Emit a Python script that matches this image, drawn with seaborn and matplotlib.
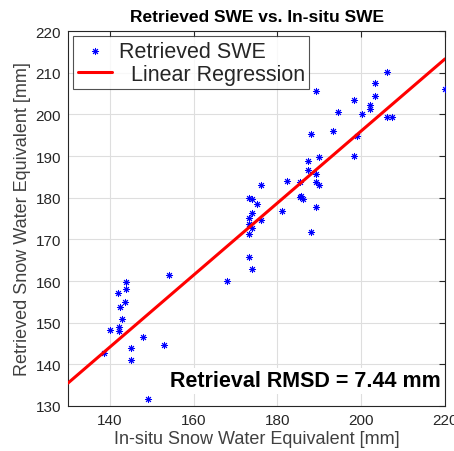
import numpy as np
import pandas as pd
import matplotlib
matplotlib.use("Agg")
import matplotlib.pyplot as plt
import seaborn as sns

# in-situ vs retrieved SWE [mm]
insitu = [138.6, 140.0, 143.9, 143.9, 142.0, 143.6, 142.4, 142.9, 142.2, 142.2,
          145.1, 145.1, 148.0, 153.0, 149.1, 154.0, 168.0, 173.1, 174.0, 173.1,
          174.0, 173.1, 176.1, 173.1, 174.0, 175.2, 174.0, 173.1, 176.1, 181.0,
          182.2, 185.3, 185.5, 186.2, 185.7, 187.2, 187.2, 187.9, 189.2, 189.2,
          190.0, 189.2, 190.0, 188.1, 189.2, 193.2, 194.4, 198.2, 199.1, 198.2,
          200.1, 202.0, 202.0, 203.2, 203.2, 206.1, 206.1, 207.3, 220.0]
retrieved = [142.7, 148.2, 159.7, 158.1, 157.1, 154.9, 153.7, 150.9, 148.9, 148.0,
             143.9, 141.0, 146.6, 144.6, 131.7, 161.4, 159.9, 165.8, 162.9, 171.4,
             172.8, 173.6, 174.7, 175.1, 176.3, 178.6, 179.8, 180.0, 183.0, 176.8,
             183.9, 183.7, 180.1, 179.6, 180.4, 186.6, 188.8, 171.7, 177.7, 183.7,
             183.0, 185.6, 189.7, 195.2, 205.5, 196.0, 200.5, 190.0, 194.7, 203.4,
             200.0, 202.2, 201.2, 204.3, 207.5, 210.1, 199.3, 199.3, 206.0]

# regression line end points
fit_x = [130, 220]
fit_y = [135.5, 213.3]

ticks_x = [140, 160, 180, 200, 220]
ticks_y = [130, 140, 150, 160, 170, 180, 190, 200, 210, 220]

df = pd.DataFrame({"insitu": insitu, "retrieved": retrieved})
fit = pd.DataFrame({"x": fit_x, "y": fit_y})

sns.set_style("whitegrid")
plt.rcParams["font.family"] = ["Liberation Sans", "DejaVu Sans"]

axc = "#262626"
fig = plt.figure(figsize=(4.54, 4.52), dpi=100)
ax = fig.add_axes([68/454, 1-407/452, 377/454, 375/452])

sns.scatterplot(data=df, x="insitu", y="retrieved", ax=ax, marker=(8, 2, 0),
                s=20, color="blue", edgecolor="blue", linewidth=0.7,
                label="Retrieved SWE", zorder=3)
sns.lineplot(data=fit, x="x", y="y", ax=ax, color="red", linewidth=2.2,
             label="  Linear Regression", zorder=4)

ax.set_xlim(130, 220)
ax.set_ylim(130, 220)
ax.set_xticks(ticks_x)
ax.set_yticks(ticks_y)
ax.grid(True, color="#dedede", linewidth=0.8)
for s in ax.spines.values():
    s.set_color(axc)
    s.set_linewidth(0.8)
ax.tick_params(direction="in", length=4, width=0.8, colors=axc, labelsize=11,
               top=True, right=True, labeltop=False, labelright=False, pad=5)

ax.set_xlabel("In-situ Snow Water Equivalent [mm]", fontsize=13, color="#404040", labelpad=2)
ax.set_ylabel("Retrieved Snow Water Equivalent [mm]", fontsize=13, color="#404040", labelpad=3)
ax.set_title("Retrieved SWE vs. In-situ SWE", fontsize=12.5, fontweight="bold", color="black", pad=7)

ax.text(0.99, 0.067, "Retrieval RMSD = 7.44 mm", transform=ax.transAxes,
        ha="right", va="center", fontsize=15.5, fontweight="bold", color="black",
        bbox=dict(facecolor="white", edgecolor="none", pad=2), zorder=5)

leg = ax.legend(loc="upper left", fontsize=15.5, frameon=True, fancybox=False,
                handlelength=1.6, handletextpad=0.3, borderpad=0.2,
                labelspacing=0.1, borderaxespad=0.25)
leg.get_frame().set_edgecolor(axc)
leg.get_frame().set_linewidth(0.8)

fig.savefig("out.png", dpi=100)
